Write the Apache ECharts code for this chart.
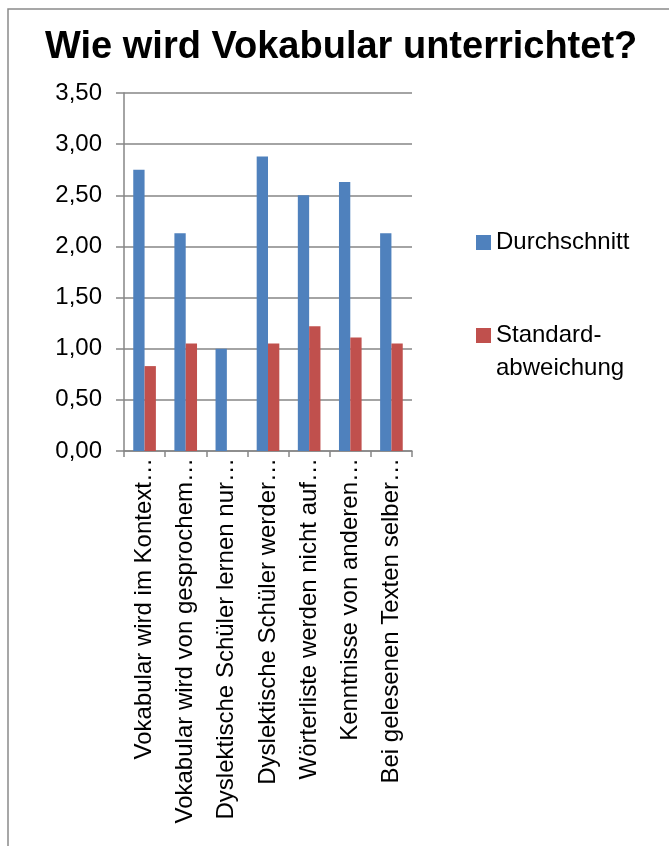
<!DOCTYPE html>
<html>
<head>
<meta charset="utf-8">
<script src="https://cdn.jsdelivr.net/npm/echarts@6/dist/echarts.min.js"></script>
<style>
html,body{margin:0;padding:0;background:#fff;}
#c{width:669px;height:846px;}
</style>
</head>
<body>
<div id="c"></div>
<script>
const categories = [
  'Vokabular wird im Kontext…',
  'Vokabular wird von gesprochem…',
  'Dyslektische Schüler lernen nur…',
  'Dyslektische Schüler werder…',
  'Wörterliste werden nicht auf…',
  'Kenntnisse von anderen…',
  'Bei gelesenen Texten selber…'
];
const durchschnitt = [2.75, 2.13, 1.00, 2.88, 2.50, 2.63, 2.13];
const standardabweichung = [0.83, 1.05, 0, 1.05, 1.22, 1.11, 1.05];
const yTicks = [0, 0.5, 1, 1.5, 2, 2.5, 3, 3.5];

const FONT = '"Liberation Sans", "Open Sans", sans-serif';
const chart = echarts.init(document.getElementById('c'), null, {renderer: 'canvas'});
chart.setOption({
  animation: false,
  backgroundColor: '#ffffff',
  title: {
    text: 'Wie wird Vokabular unterrichtet?',
    left: 45,
    top: 29,
    padding: 0,
    textStyle: {fontFamily: FONT, fontWeight: 'bold', fontSize: 38, color: '#000'}
  },
  graphic: [{
    type: 'rect',
    shape: {x: 8, y: 9, width: 720, height: 900},
    style: {fill: 'none', stroke: '#8a8a8a', lineWidth: 1.5},
    silent: true, z: -1
  }],
  legend: {
    orient: 'vertical',
    left: 476,
    top: 226,
    padding: 0,
    itemWidth: 15,
    itemHeight: 15,
    itemGap: 27,
    icon: 'rect',
    formatter: name => name === 'Durchschnitt' ? 'Durchschnitt' : ' \nStandard-\nabweichung',
    textStyle: {fontFamily: FONT, fontSize: 24, color: '#000', lineHeight: 33},
    data: ['Durchschnitt', 'Standardabweichung']
  },
  grid: {left: 124, top: 93, width: 288, height: 358, containLabel: false},
  xAxis: {
    type: 'category',
    data: categories,
    axisLine: {show: true, lineStyle: {color: '#868686', width: 1.5}},
    axisTick: {show: true, alignWithLabel: false, length: 6, lineStyle: {color: '#868686', width: 1.5}},
    axisLabel: {rotate: 90, interval: 0, fontFamily: FONT, fontSize: 24, color: '#000', margin: 7}
  },
  yAxis: {
    type: 'value',
    min: 0,
    max: 3.5,
    interval: 0.5,
    axisLine: {show: true, lineStyle: {color: '#868686', width: 1.5}},
    axisTick: {show: true, inside: false, length: 8, lineStyle: {color: '#868686', width: 1.5}},
    splitLine: {show: true, lineStyle: {color: '#868686', width: 1.5}},
    axisLabel: {
      fontFamily: FONT, fontSize: 24, color: '#000', margin: 22,
      formatter: v => v.toFixed(2).replace('.', ',')
    }
  },
  series: [
    {
      name: 'Durchschnitt', type: 'bar', data: durchschnitt,
      barGap: '0%', barCategoryGap: '45%',
      itemStyle: {color: '#4F81BD'}
    },
    {
      name: 'Standardabweichung', type: 'bar', data: standardabweichung,
      itemStyle: {color: '#C0504D'}
    }
  ]
});
</script>
</body>
</html>
